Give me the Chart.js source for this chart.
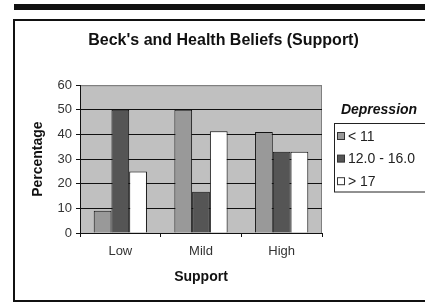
<!DOCTYPE html>
<html>
<head>
<meta charset="utf-8">
<script src="https://cdn.jsdelivr.net/npm/chart.js@4/dist/chart.umd.min.js"></script>
<style>
  html, body { margin: 0; padding: 0; background: #fff; }
  #wrap { width: 425px; height: 304px; }
</style>
</head>
<body>
<div id="wrap"><canvas id="chart1"></canvas></div>
<script>
const categories = ['Low', 'Mild', 'High'];
const seriesNames = ['< 11', '12.0 - 16.0', '> 17'];
const below11 = [9, 50, 41];
const from12to16 = [50, 16.7, 33];
const above17 = [25, 41.3, 33];
const yTicks = [0, 10, 20, 30, 40, 50, 60];

const FONT = '"Liberation Sans", Arial, sans-serif';

// рамка, серый фон области построения и легенда
const decor = {
    id: 'decor',
    beforeDraw(chart) {
        const ctx = chart.ctx;
        const a = chart.chartArea;
        ctx.save();
        ctx.fillStyle = '#fff';
        ctx.fillRect(0, 0, chart.width, chart.height);
        ctx.fillStyle = '#111';
        ctx.fillRect(14, 4, 411, 6);
        ctx.strokeStyle = '#111';
        ctx.lineWidth = 2;
        ctx.strokeRect(14, 20, 430, 281);
        ctx.fillStyle = '#c0c0c0';
        ctx.fillRect(a.left, a.top, a.right - a.left, a.bottom - a.top);
        ctx.strokeStyle = '#808080';
        ctx.lineWidth = 1;
        ctx.strokeRect(a.left + 0.5, a.top + 0.5, a.right - a.left - 1, a.bottom - a.top);
        ctx.restore();
    },
    afterDraw(chart) {
        const ctx = chart.ctx;
        ctx.save();
        ctx.fillStyle = '#111';
        ctx.font = 'italic bold 14px ' + FONT;
        ctx.textAlign = 'center';
        ctx.textBaseline = 'middle';
        ctx.fillText('Depression', 379, 110);
        ctx.strokeStyle = '#222';
        ctx.lineWidth = 1;
        ctx.strokeRect(334.5, 123.5, 100, 68.5);
        ctx.font = '14px ' + FONT;
        ctx.textAlign = 'left';
        chart.data.datasets.forEach((ds, i) => {
            const y = 136 + i * 22.6;
            ctx.fillStyle = ds.backgroundColor;
            ctx.fillRect(337.5, y - 3.5, 7, 7);
            ctx.strokeStyle = '#333';
            ctx.strokeRect(337.5, y - 3.5, 7, 7);
            ctx.fillStyle = '#222';
            ctx.fillText(ds.label, 348, y + 1);
        });
        ctx.restore();
    }
};

document.addEventListener('DOMContentLoaded', () => {
    const chart1 = document.getElementById('chart1');
    new Chart(chart1.getContext('2d'), {
        type: 'bar',
        data: {
            labels: categories,
            datasets: [
                { label: seriesNames[0], data: below11, backgroundColor: '#999999' },
                { label: seriesNames[1], data: from12to16, backgroundColor: '#555555' },
                { label: seriesNames[2], data: above17, backgroundColor: '#ffffff' }
            ].map(d => Object.assign(d, {
                borderColor: '#111',
                borderWidth: 1,
                borderSkipped: 'bottom',
                barPercentage: 1,
                categoryPercentage: 0.66
            }))
        },
        plugins: [decor],
        options: {
            responsive: true,
            maintainAspectRatio: false,
            animation: false,
            devicePixelRatio: 1,
            layout: { padding: { left: 22, top: 22, right: 0, bottom: 10 } },
            plugins: {
                legend: { display: false },
                tooltip: { enabled: false },
                title: {
                    display: true,
                    text: "Beck's and Health Beliefs (Support)",
                    color: '#111',
                    font: { family: FONT, size: 16, weight: 'bold' },
                    padding: { top: 9, bottom: 35 }
                }
            },
            scales: {
                x: {
                    grid: {
                        offset: true,
                        drawOnChartArea: false,
                        color: '#111',
                        tickLength: 4
                    },
                    border: { color: '#111', width: 1 },
                    ticks: {
                        color: '#333',
                        padding: 7,
                        font: { family: FONT, size: 13 }
                    },
                    title: {
                        display: true,
                        text: 'Support',
                        color: '#111',
                        font: { family: FONT, size: 14, weight: 'bold' },
                        padding: { top: 0, bottom: 8 }
                    },
                    afterFit: s => { s.height = 61; }
                },
                y: {
                    min: 0,
                    max: 60,
                    afterBuildTicks: s => { s.ticks = yTicks.map(v => ({ value: v })); },
                    grid: {
                        color: ctx => (ctx.tick && ctx.tick.value === 60 ? '#808080' : '#111'),
                        tickColor: '#111',
                        tickLength: 4
                    },
                    border: { color: '#111', width: 1 },
                    ticks: {
                        color: '#333',
                        padding: 4,
                        font: { family: FONT, size: 13 }
                    },
                    title: {
                        display: true,
                        text: 'Percentage',
                        color: '#111',
                        font: { family: FONT, size: 14, weight: 'bold' },
                        padding: { top: 8, bottom: 0 }
                    },
                    afterFit: s => { s.width = 58; }
                },
                // пустая ось справа: оставляет место под легенду
                spacer: {
                    type: 'linear',
                    position: 'right',
                    grid: { display: false },
                    border: { display: false },
                    ticks: { display: false },
                    afterFit: s => { s.width = 103; }
                }
            }
        }
    });
});
</script>
</body>
</html>
